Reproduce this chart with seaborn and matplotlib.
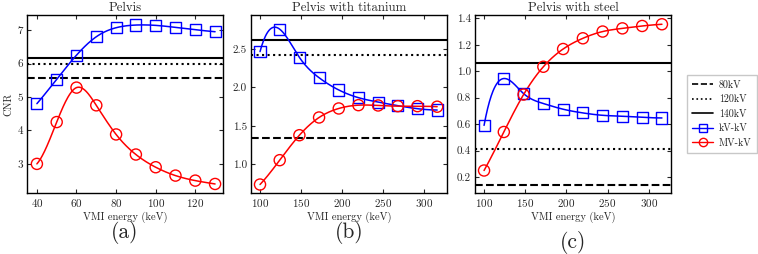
import numpy as np
import pandas as pd
import matplotlib
matplotlib.use("Agg")
import matplotlib.pyplot as plt
from matplotlib.lines import Line2D
import seaborn as sns

# panel (a): Pelvis
energy_a = [40, 50, 60, 70, 80, 90, 100, 110, 120, 130]
kvkv_a = [4.80, 5.53, 6.25, 6.80, 7.07, 7.15, 7.14, 7.08, 7.01, 6.95]
mvkv_a = [3.00, 4.25, 5.28, 4.75, 3.88, 3.28, 2.90, 2.65, 2.50, 2.40]
ref_a = {"80kV": 5.58, "120kV": 6.00, "140kV": 6.17}

# panel (b): Pelvis with titanium
energy_b = [100, 124, 148, 172, 196, 220, 244, 268, 292, 316]
kvkv_b = [2.465, 2.756, 2.39, 2.126, 1.967, 1.867, 1.81, 1.763, 1.724, 1.707]
mvkv_b = [0.74, 1.056, 1.38, 1.61, 1.727, 1.77, 1.766, 1.757, 1.757, 1.75]
ref_b = {"80kV": 1.34, "120kV": 2.42, "140kV": 2.62}

# panel (c): Pelvis with steel
energy_c = [100, 124, 148, 172, 196, 220, 244, 268, 292, 316]
kvkv_c = [0.591, 0.945, 0.831, 0.756, 0.713, 0.685, 0.667, 0.660, 0.652, 0.647]
mvkv_c = [0.25, 0.541, 0.824, 1.034, 1.168, 1.249, 1.30, 1.324, 1.342, 1.355]
ref_c = {"80kV": 0.144, "120kV": 0.41, "140kV": 1.059}

titles = ["Pelvis", "Pelvis with titanium", "Pelvis with steel"]
letters = ["(a)", "(b)", "(c)"]
ref_styles = {"80kV": "--", "120kV": ":", "140kV": "-"}


def smooth_curve(x, y, n=300):
    # cubic spline through the points, not-a-knot ends
    x = np.asarray(x, float)
    y = np.asarray(y, float)
    k = len(x)
    h = np.diff(x)
    A = np.zeros((k, k))
    r = np.zeros(k)
    A[0, 0], A[0, 1], A[0, 2] = h[1], -(h[0] + h[1]), h[0]
    A[-1, -3], A[-1, -2], A[-1, -1] = h[-1], -(h[-2] + h[-1]), h[-2]
    for i in range(1, k - 1):
        A[i, i - 1] = h[i - 1]
        A[i, i] = 2 * (h[i - 1] + h[i])
        A[i, i + 1] = h[i]
        r[i] = 6 * ((y[i + 1] - y[i]) / h[i] - (y[i] - y[i - 1]) / h[i - 1])
    m = np.linalg.solve(A, r)
    xs = np.linspace(x[0], x[-1], n)
    idx = np.clip(np.searchsorted(x, xs) - 1, 0, k - 2)
    t = xs - x[idx]
    hi = h[idx]
    a = (m[idx + 1] - m[idx]) / (6 * hi)
    b = m[idx] / 2
    c = (y[idx + 1] - y[idx]) / hi - hi * (2 * m[idx] + m[idx + 1]) / 6
    ys = y[idx] + c * t + b * t ** 2 + a * t ** 3
    return xs, ys


def main():
    sns.set_style("ticks")
    plt.rcParams["font.family"] = ["cmr10", "DejaVu Serif"]
    plt.rcParams["axes.formatter.use_mathtext"] = True
    plt.rcParams["mathtext.fontset"] = "cm"

    fig = plt.figure(figsize=(7.58, 2.54), dpi=100)
    lefts = [27 / 758, 251 / 758, 475 / 758]
    w = 196 / 758
    bottom = 1 - 193 / 254
    height = 178 / 254

    panels = [
        (energy_a, kvkv_a, mvkv_a, ref_a, (35, 134), (2.13, 7.45), [40, 60, 80, 100, 120], [3, 4, 5, 6, 7]),
        (energy_b, kvkv_b, mvkv_b, ref_b, (89, 328), (0.63, 2.94), [100, 150, 200, 250, 300], [1.0, 1.5, 2.0, 2.5]),
        (energy_c, kvkv_c, mvkv_c, ref_c, (89, 327), (0.08, 1.425), [100, 150, 200, 250, 300],
         [0.2, 0.4, 0.6, 0.8, 1.0, 1.2, 1.4]),
    ]
    letter_y = [233, 233, 243]

    for i, (x, kv, mv, ref, xl, yl, xt, yt) in enumerate(panels):
        ax = fig.add_axes([lefts[i], bottom, w, height])
        for name, val in ref.items():
            ax.axhline(val, color="black", ls=ref_styles[name], lw=1.5, zorder=1)
        for yv, col, mk in [(kv, "#0000ff", "s"), (mv, "#ff0000", "o")]:
            xs, ys = smooth_curve(x, yv)
            sns.lineplot(x=xs, y=ys, ax=ax, color=col, lw=1.1, zorder=2)
            sns.scatterplot(x=x, y=yv, ax=ax, marker=mk, s=64, facecolors="none",
                            edgecolor=col, linewidth=1.0, zorder=3)
        ax.set_xlim(*xl)
        ax.set_ylim(*yl)
        ax.set_xticks(xt)
        ax.set_yticks(yt)
        if i == 0:
            ax.set_yticklabels([str(v) for v in yt])
        else:
            ax.set_yticklabels(["%.1f" % v for v in yt])
        ax.tick_params(direction="in", top=True, right=True, length=3, width=0.8,
                       labelsize=8, pad=3)
        for s in ax.spines.values():
            s.set_linewidth(1.0)
            s.set_color("black")
        ax.set_title(titles[i], fontsize=9.2, pad=3)
        ax.set_xlabel("VMI energy (keV)", fontsize=7.6, labelpad=2)
        if i == 0:
            ax.set_ylabel("CNR", fontsize=7.6, labelpad=3)
        fig.text(lefts[i] + w / 2, 1 - letter_y[i] / 254, letters[i], ha="center",
                 va="center", fontsize=15.5)

    handles = [
        Line2D([], [], color="black", ls="--", lw=1.2),
        Line2D([], [], color="black", ls=":", lw=1.2),
        Line2D([], [], color="black", ls="-", lw=1.2),
        Line2D([], [], color="#0000ff", lw=1.0, marker="s", mfc="none", ms=6),
        Line2D([], [], color="#ff0000", lw=1.0, marker="o", mfc="none", ms=6),
    ]
    fig.legend(handles, ["80kV", "120kV", "140kV", "kV-kV", "MV-kV"],
               loc="upper left", bbox_to_anchor=(682 / 758, 1 - 70 / 254),
               fontsize=7.2, frameon=True, fancybox=False, edgecolor="#bbbbbb",
               handlelength=2.1, borderpad=0.5, labelspacing=0.5, handletextpad=0.6)

    fig.savefig("out.png", dpi=100)


if __name__ == "__main__":
    main()
